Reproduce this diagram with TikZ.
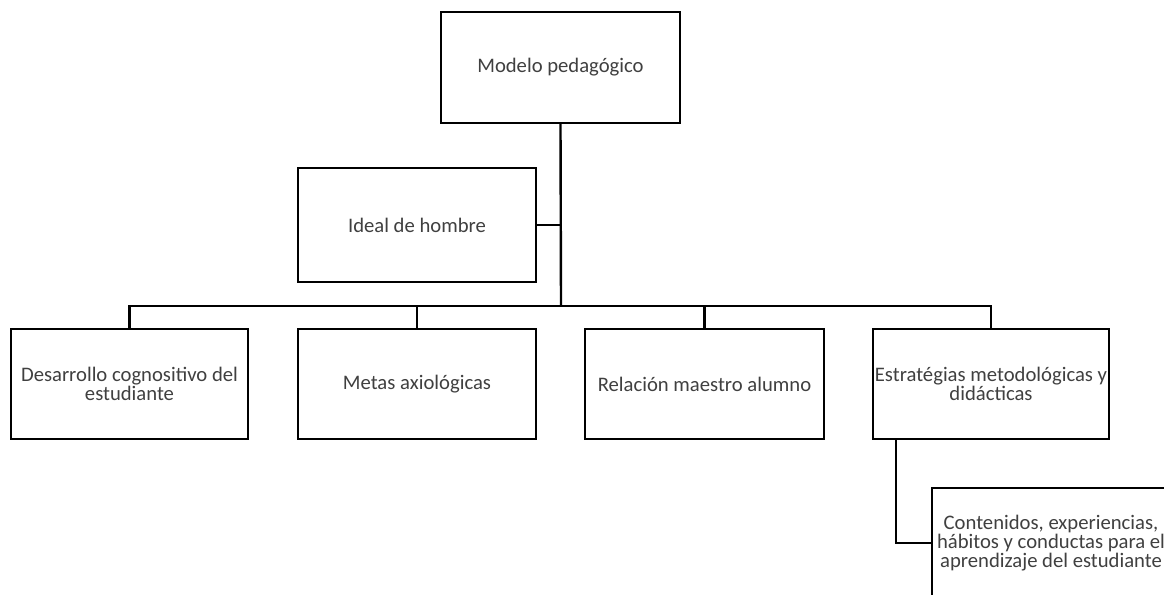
\documentclass[tikz,border=0pt]{standalone}
\usepackage{fontspec}
\setmainfont{Carlito}
\begin{document}
\begin{tikzpicture}[x=0.75pt,y=-0.75pt,
  box/.style={draw=black,line width=1.8pt,fill=white,align=center,inner sep=0pt,
    text=black!75,font=\fontsize{15.5}{14}\selectfont},
  link/.style={draw=black,line width=1.8pt}]
\useasboundingbox (0,0) rectangle (1164,594);
\clip (0,0) rectangle (1164,594);
\node[box,minimum width=179.25pt,minimum height=83.25pt] (top) at (560.5,67.5) {Modelo pedagógico};
\node[box,minimum width=178.5pt,minimum height=85.5pt] (ideal) at (417,225) {Ideal de hombre};
\node[box,minimum width=177.75pt,minimum height=82.5pt] (b1) at (129.5,384) {Desarrollo cognositivo del\\estudiante};
\node[box,minimum width=178.5pt,minimum height=82.5pt] (b2) at (417,384) {Metas axiológicas};
\node[box,minimum width=179.25pt,minimum height=82.5pt] (b3) at (704.5,384) {Relación maestro alumno};
\node[box,minimum width=177pt,minimum height=82.5pt] (b4) at (991,384) {Estratégias metodológicas y\\didácticas};
\node[box,minimum width=178.5pt,minimum height=82.5pt] (last) at (1051,543) {Contenidos, experiencias,\\hábitos y conductas para el\\aprendizaje del estudiante};
\coordinate (j) at (561,306);
\draw[link] (top.south) -- (j);
\draw[link] (ideal.east) -- (ideal.east -| j);
\draw[link] (b1.north) |- (j) -| (b4.north);
\draw[link] (b2.north) -- (b2.north |- j);
\draw[link] (b3.north) -- (b3.north |- j);
\draw[link] (b4.south -| 896,0) |- (last.west);
\end{tikzpicture}
\end{document}
